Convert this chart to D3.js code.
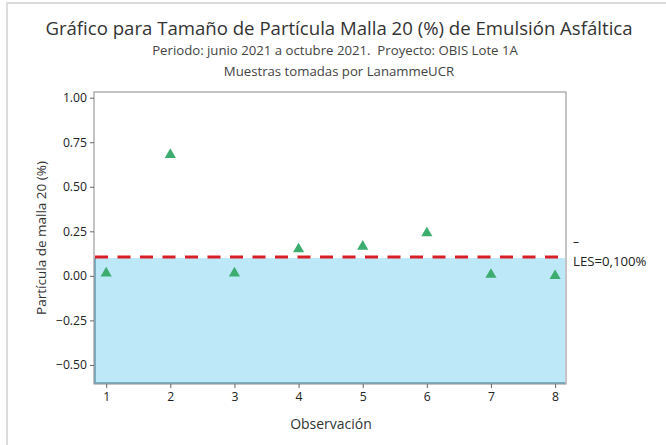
<!DOCTYPE html>
<html>
<head>
<meta charset="utf-8">
<script src="https://cdn.jsdelivr.net/npm/d3@7"></script>
<style>
  html, body { margin: 0; padding: 0; background: #fff; }
  svg { display: block; font-family: "Open Sans", "Noto Sans", sans-serif; }
  text { white-space: pre; }
</style>
</head>
<body>
<svg id="chart" width="666" height="445"></svg>
<script>
// Observaciones y porcentaje retenido en malla 20
const observations = [1, 2, 3, 4, 5, 6, 7, 8];
const particleValues = [0.015, 0.68, 0.015, 0.15, 0.165, 0.24, 0.007, 0.0];
const yTicks = [1.00, 0.75, 0.50, 0.25, 0.00, -0.25, -0.50];
const xTicks = [1, 2, 3, 4, 5, 6, 7, 8];
const lesValue = 0.100;

const titleText = "Gráfico para Tamaño de Partícula Malla 20 (%) de Emulsión Asfáltica";
const subtitle1 = "Periodo: junio 2021 a octubre 2021.  Proyecto: OBIS Lote 1A";
const subtitle2 = "Muestras tomadas por LanammeUCR";

const svg = d3.select("#chart");
const plot = { left: 94, right: 566, top: 92, bottom: 384 };

const x = d3.scaleLinear().domain([0.81, 8.17]).range([plot.left, plot.right]);
const y = d3.scaleLinear().domain([-0.607, 1.032]).range([plot.bottom, plot.top]);

// marco exterior
svg.append("path")
  .attr("d", "M7,445 V3 H666")
  .attr("fill", "none")
  .attr("stroke", "#dcdcdc")
  .attr("stroke-width", 2);

// títulos
svg.append("text").attr("x", 339).attr("y", 35)
  .attr("text-anchor", "middle").attr("font-size", 18.6).attr("fill", "#333")
  .text(titleText);
svg.append("text").attr("x", 335).attr("y", 55)
  .attr("text-anchor", "middle").attr("font-size", 13.2).attr("fill", "#444")
  .text(subtitle1);
svg.append("text").attr("x", 339).attr("y", 76)
  .attr("text-anchor", "middle").attr("font-size", 13.2).attr("fill", "#444")
  .text(subtitle2);

// área de la gráfica
svg.append("rect")
  .attr("x", plot.left).attr("y", plot.top)
  .attr("width", plot.right - plot.left).attr("height", plot.bottom - plot.top)
  .attr("fill", "#fff");

// zona por debajo del límite LES
svg.append("rect")
  .attr("x", plot.left + 1).attr("y", y(lesValue))
  .attr("width", plot.right - plot.left - 2)
  .attr("height", plot.bottom - 1 - y(lesValue))
  .attr("fill", "#bde8f8");
svg.append("path")
  .attr("d", `M${plot.left + 1},${y(lesValue)} V${plot.bottom - 1} H${plot.right - 1}`)
  .attr("fill", "none").attr("stroke", "#5c9db4").attr("stroke-width", 1.5);

// línea LES
svg.append("line")
  .attr("x1", plot.left + 1).attr("x2", plot.right - 1)
  .attr("y1", y(lesValue) - 1).attr("y2", y(lesValue) - 1)
  .attr("stroke", "#d91f26").attr("stroke-width", 3)
  .attr("stroke-dasharray", "13,9.5");

svg.append("text").attr("x", 573).attr("y", 246)
  .attr("font-size", 12).attr("fill", "#222").text("–");
svg.append("text").attr("x", 573).attr("y", 266)
  .attr("font-size", 13.2).attr("fill", "#222").text("LES=0,100%");

// puntos
svg.append("g").selectAll("path")
  .data(observations)
  .join("path")
  .attr("transform", (d, i) => `translate(${x(d)},${y(particleValues[i])})`)
  .attr("d", d3.symbol().type(d3.symbolTriangle).size(54))
  .attr("fill", "#3cad6e");

// borde de la gráfica
svg.append("rect")
  .attr("x", plot.left).attr("y", plot.top)
  .attr("width", plot.right - plot.left).attr("height", plot.bottom - plot.top)
  .attr("fill", "none").attr("stroke", "#8a8a8a").attr("stroke-width", 1);

// ejes
const yAxis = svg.append("g")
  .attr("transform", `translate(${plot.left},0)`)
  .call(d3.axisLeft(y).tickValues(yTicks).tickFormat(d3.format(".2f")).tickSize(4).tickPadding(3));
const xAxis = svg.append("g")
  .attr("transform", `translate(0,${plot.bottom})`)
  .call(d3.axisBottom(x).tickValues(xTicks).tickFormat(d3.format("d")).tickSize(4).tickPadding(4));

[yAxis, xAxis].forEach(g => {
  g.select(".domain").remove();
  g.selectAll(".tick line").attr("stroke", "#666");
  g.selectAll(".tick text")
    .attr("font-family", "\"Open Sans\", \"Noto Sans\", sans-serif")
    .attr("font-size", 12.2).attr("fill", "#222");
});

// títulos de ejes
svg.append("text").attr("x", 331).attr("y", 429)
  .attr("text-anchor", "middle").attr("font-size", 14).attr("fill", "#333")
  .text("Observación");
svg.append("text")
  .attr("transform", "translate(46,238) rotate(-90)")
  .attr("text-anchor", "middle").attr("font-size", 13.5).attr("fill", "#333")
  .text("Partícula de malla 20 (%)");
</script>
</body>
</html>
